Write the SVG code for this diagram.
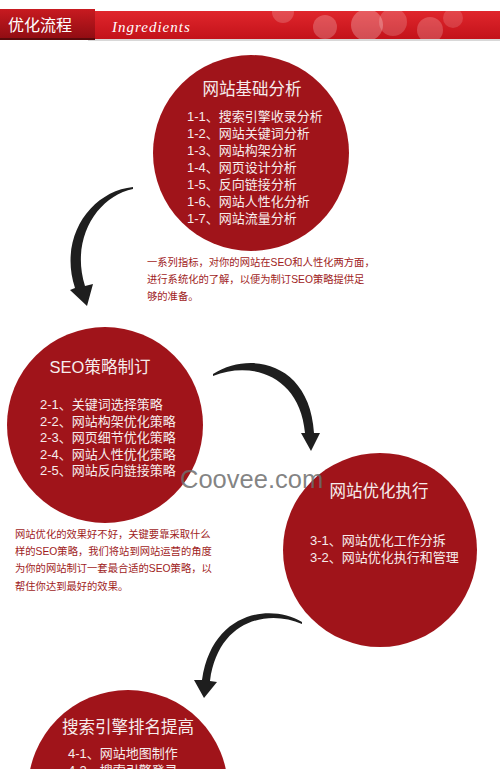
<svg xmlns="http://www.w3.org/2000/svg" width="500" height="769" viewBox="0 0 500 769">
<defs>
<linearGradient id="banner" x1="0" y1="0" x2="0" y2="1">
<stop offset="0" stop-color="#e0262c"/>
<stop offset="1" stop-color="#c3121a"/>
</linearGradient>
<linearGradient id="tab" x1="0" y1="0" x2="0" y2="1">
<stop offset="0" stop-color="#c81a20"/>
<stop offset="1" stop-color="#8e0c12"/>
</linearGradient>
<clipPath id="bclip"><rect x="95" y="11" width="405" height="28"/></clipPath>
<style>
.disc{fill:#a0141a}
.title{font-family:"Liberation Sans","Noto Sans CJK SC",sans-serif;font-size:16.5px;fill:#f6ecec;text-anchor:middle}
.item{font-family:"Liberation Sans","Noto Sans CJK SC",sans-serif;font-size:13px;fill:#f6ecec}
.cap{font-family:"Liberation Sans","Noto Sans CJK SC",sans-serif;font-size:10.3px;fill:#a01c1c}
.arrow{fill:#1e1e1e}
</style>
</defs>
<rect width="500" height="769" fill="#ffffff"/>

<g id="header">
<rect x="88" y="11" width="412" height="28" fill="url(#banner)"/>
<g clip-path="url(#bclip)" fill="#ffffff">
<circle cx="283" cy="12" r="11" opacity="0.18"/>
<circle cx="325" cy="27" r="12" opacity="0.22"/>
<circle cx="367" cy="25" r="16" opacity="0.25"/>
<circle cx="393" cy="22" r="14" opacity="0.18"/>
<circle cx="430" cy="30" r="13" opacity="0.2"/>
<circle cx="453" cy="18" r="10" opacity="0.15"/>
</g>
<rect x="88" y="39" width="412" height="2" fill="#d8d8d8"/>
<rect x="0" y="9" width="95" height="31" fill="url(#tab)"/>
<rect x="0" y="38" width="95" height="2" fill="#5a0a0c"/>
<text x="8" y="31" font-family="Liberation Sans,Noto Sans CJK SC,sans-serif" font-size="16px" fill="#ffffff">优化流程</text>
<text x="112" y="32" font-family="Liberation Serif,serif" font-style="italic" font-size="15px" letter-spacing="1" fill="#ffffff">Ingredients</text>
</g>

<g id="node1">
<circle class="disc" cx="251" cy="153" r="98"/>
<text class="title" x="252" y="95">网站基础分析</text>
<text class="item" x="187" y="121">1-1、搜索引擎收录分析</text>
<text class="item" x="187" y="138">1-2、网站关键词分析</text>
<text class="item" x="187" y="155">1-3、网站构架分析</text>
<text class="item" x="187" y="172">1-4、网页设计分析</text>
<text class="item" x="187" y="189">1-5、反向链接分析</text>
<text class="item" x="187" y="206">1-6、网站人性化分析</text>
<text class="item" x="187" y="223">1-7、网站流量分析</text>
</g>
<g id="caption1">
<text class="cap" x="147" y="266">一系列指标，对你的网站在SEO和人性化两方面，</text>
<text class="cap" x="147" y="283">进行系统化的了解，以便为制订SEO策略提供足</text>
<text class="cap" x="147" y="300">够的准备。</text>
</g>

<g id="node2">
<circle class="disc" cx="105" cy="425" r="98"/>
<text class="title" x="100" y="373">SEO策略制订</text>
<text class="item" x="40" y="409">2-1、关键词选择策略</text>
<text class="item" x="40" y="425.5">2-2、网站构架优化策略</text>
<text class="item" x="40" y="442">2-3、网页细节优化策略</text>
<text class="item" x="40" y="458.5">2-4、网站人性优化策略</text>
<text class="item" x="40" y="475">2-5、网站反向链接策略</text>
</g>
<g id="caption2">
<text class="cap" x="15" y="538">网站优化的效果好不好，关键要靠采取什么</text>
<text class="cap" x="15" y="555">样的SEO策略，我们将站到网站运营的角度</text>
<text class="cap" x="15" y="572">为你的网站制订一套最合适的SEO策略，以</text>
<text class="cap" x="15" y="590">帮住你达到最好的效果。</text>
</g>

<g id="node3">
<circle class="disc" cx="380" cy="550" r="97"/>
<text class="title" x="379" y="497">网站优化执行</text>
<text class="item" x="310" y="545">3-1、网站优化工作分拆</text>
<text class="item" x="310" y="562">3-2、网站优化执行和管理</text>
</g>

<g id="node4">
<circle class="disc" cx="128" cy="790" r="100"/>
<text class="title" x="128" y="733">搜索引擎排名提高</text>
<text class="item" x="68" y="758">4-1、网站地图制作</text>
<text class="item" x="68" y="775">4-2、搜索引擎登录</text>
</g>

<g id="connectors">
<path class="arrow" d="M133,187 C92,191 58,236 75,288 L70,290 L87,306 L93,284 L85,286 C70,238 98,196 133,189 Z"/>
<path class="arrow" d="M213,374 C252,350 310,364 314,433 L320,433 L311,451 L301,433 L305,433 C300,376 252,360 213,376 Z"/>
<path class="arrow" d="M302,622 C270,603 212,612 202,680 L194,680 L204,698 L217,682 L210,681 C218,620 268,609 302,624 Z"/>
</g>

<text id="watermark" x="180" y="488" font-family="Liberation Sans,sans-serif" font-size="25.5px" fill="#6e6e6e" fill-opacity="0.85">Coovee.com</text>
</svg>
